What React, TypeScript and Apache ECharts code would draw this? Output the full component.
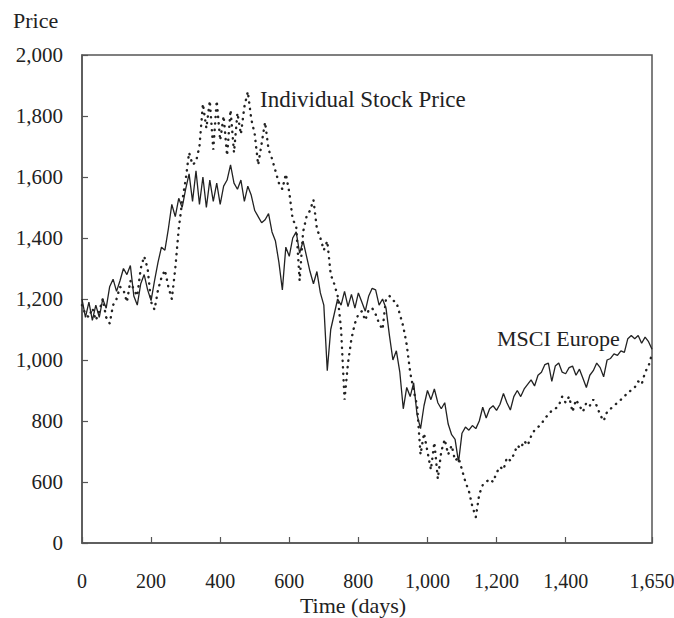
import React, { useEffect, useRef } from "react";
import * as echarts from "echarts";

// Day step between consecutive readings
const dayStep = 10;

// MSCI Europe index (solid line), days 0..1650 step 10
const msciValues = [
  1200, 1140, 1190, 1130, 1180, 1140, 1200, 1170, 1240, 1265,
  1225, 1260, 1300, 1280, 1310, 1210, 1180, 1250, 1280, 1230,
  1195, 1260, 1320, 1370, 1360, 1430, 1510, 1470, 1530, 1500,
  1560, 1610, 1520, 1620, 1510, 1600, 1500, 1590, 1520, 1580,
  1510, 1570, 1590, 1640, 1580, 1560, 1590, 1520, 1570, 1540,
  1490, 1470, 1450, 1460, 1480, 1420, 1390, 1320, 1230, 1370,
  1340, 1400, 1420, 1350, 1390, 1340, 1290, 1250, 1290, 1220,
  1180, 965, 1100, 1150, 1200, 1180, 1225, 1175, 1215, 1170,
  1220, 1190, 1160, 1210, 1235, 1230, 1180, 1200, 1170, 1080,
  1000, 1030, 960, 840, 910, 880, 925, 820, 775, 850,
  900, 870, 905, 860, 840, 860, 790, 755, 740, 665,
  760, 780, 770, 785, 775, 800, 845, 810, 840, 850,
  835, 855, 890, 860, 836, 880, 900, 880, 905, 920,
  935, 915, 950, 960, 985, 990, 930, 980, 990, 960,
  955, 975, 980, 950, 970, 940, 910, 950, 965, 990,
  975, 945, 1000, 1005, 1020, 1015, 1030, 1025, 1070, 1080,
  1070, 1080, 1055, 1075, 1060, 1035,
];

// Individual stock price (dotted line), days 0..1650 step 10
const stockValues = [
  1180, 1150, 1140, 1170, 1130, 1160, 1200, 1140, 1120, 1180,
  1200, 1240, 1230, 1190, 1260, 1230, 1210, 1300, 1340, 1300,
  1190, 1165, 1230, 1270, 1295, 1240, 1200, 1300, 1430, 1520,
  1590, 1680, 1640, 1650, 1700, 1840, 1760, 1850, 1690, 1850,
  1720, 1800, 1670, 1820, 1680, 1810, 1740, 1830, 1880, 1790,
  1740, 1640, 1710, 1780, 1690, 1660, 1620, 1580, 1560, 1610,
  1550, 1460, 1440, 1260, 1420, 1470, 1490, 1525, 1430, 1400,
  1360, 1390, 1280, 1250, 1210, 1100, 870, 990, 1070, 1120,
  1150, 1160, 1130, 1165, 1170, 1150, 1120, 1100, 1200, 1210,
  1195, 1190, 1150, 1110, 1050, 960, 900, 850, 690, 760,
  700, 640, 730, 610, 700, 740, 690, 720, 670, 680,
  640, 600, 570, 520, 485, 560, 590, 600, 610, 600,
  630, 650, 640, 680, 670, 690, 720, 710, 735, 720,
  750, 770, 780, 790, 810, 820, 835, 840, 850, 880,
  860, 880, 830, 870, 850, 830, 860, 850, 870, 850,
  820, 800, 830, 840, 850, 860, 870, 880, 895, 900,
  910, 930, 920, 960, 980, 1020,
];

const xTickValues = [0, 200, 400, 600, 800, 1000, 1200, 1400, 1650];
const yMin = 400; // axis is broken: the bottom is labelled "0"
const yMax = 2000;
const yInterval = 200;

const FONT = "'Liberation Serif', 'DejaVu Serif', serif";
const INK = "#222";

export default function App() {
  const ref = useRef<HTMLDivElement>(null);

  useEffect(() => {
    if (!ref.current) return;
    const chart = echarts.init(ref.current, undefined, { renderer: "svg" });
    const msciData = msciValues.map((v, i) => [i * dayStep, v]);
    const stockData = stockValues.map((v, i) => [i * dayStep, v]);
    const fmt = (v: number) => v.toLocaleString("en-US");

    chart.setOption({
      animation: false,
      backgroundColor: "#fff",
      textStyle: { fontFamily: FONT, color: INK },
      grid: {
        left: 82,
        right: 22,
        top: 55,
        bottom: 75,
        show: true,
        borderColor: "#555",
        borderWidth: 1.5,
        outerBoundsMode: "none",
      },
      xAxis: {
        type: "value",
        min: 0,
        max: 1650,
        splitLine: { show: false },
        axisLine: { show: true, lineStyle: { color: "#555", width: 1.5 } },
        axisTick: {
          show: true,
          inside: true,
          length: 6,
          customValues: xTickValues,
          lineStyle: { color: "#555", width: 1.2 },
        },
        axisLabel: {
          customValues: xTickValues,
          formatter: (v: number) => fmt(v),
          fontFamily: FONT,
          fontSize: 20,
          color: INK,
          margin: 28,
        },
      },
      yAxis: {
        type: "value",
        min: yMin,
        max: yMax,
        interval: yInterval,
        splitLine: { show: false },
        axisLine: { show: true, lineStyle: { color: "#555", width: 1.5 } },
        axisTick: {
          show: true,
          inside: true,
          length: 6,
          lineStyle: { color: "#555", width: 1.2 },
        },
        axisLabel: {
          formatter: (v: number) => (v === yMin ? "0" : fmt(v)),
          fontFamily: FONT,
          fontSize: 21,
          color: INK,
          margin: 19,
        },
      },
      graphic: [
        {
          type: "text",
          x: 13,
          y: 20,
          style: {
            text: "Price",
            font: `22px ${FONT}`,
            fill: INK,
            textVerticalAlign: "middle",
          },
        },
        {
          type: "text",
          x: 353,
          y: 605,
          style: {
            text: "Time (days)",
            font: `22px ${FONT}`,
            fill: INK,
            textAlign: "center",
            textVerticalAlign: "middle",
          },
        },
        {
          type: "text",
          x: 260,
          y: 99,
          style: {
            text: "Individual Stock Price",
            font: `23px ${FONT}`,
            fill: INK,
            textVerticalAlign: "middle",
          },
        },
        {
          type: "text",
          x: 497,
          y: 338,
          style: {
            text: "MSCI Europe",
            font: `22px ${FONT}`,
            fill: INK,
            textVerticalAlign: "middle",
          },
        },
      ],
      series: [
        {
          name: "Individual Stock Price",
          type: "line",
          data: stockData,
          showSymbol: false,
          symbol: "none",
          lineStyle: {
            color: INK,
            width: 2.4,
            type: [0.3, 6.2],
            cap: "round",
          },
          z: 2,
        },
        {
          name: "MSCI Europe",
          type: "line",
          data: msciData,
          showSymbol: false,
          symbol: "none",
          lineStyle: { color: INK, width: 1.3 },
          z: 3,
        },
      ],
    });

    return () => chart.dispose();
  }, []);

  return (
    <div
      ref={ref}
      style={{ position: "fixed", left: 0, top: 0, width: 674, height: 618 }}
    />
  );
}
